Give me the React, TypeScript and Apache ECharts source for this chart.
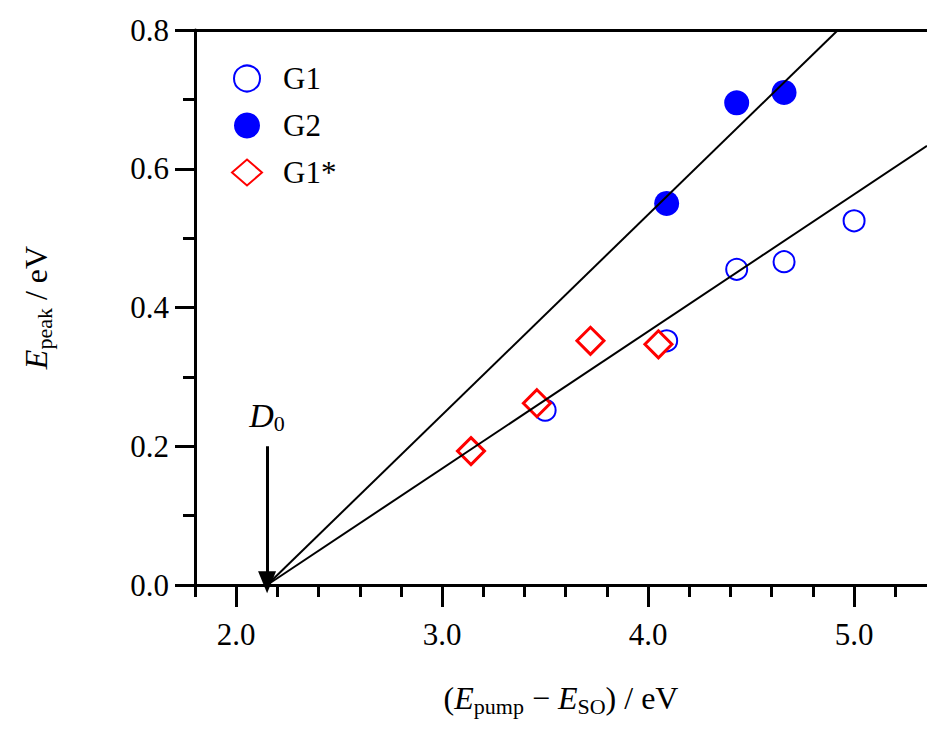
import React, { useEffect, useRef } from 'react';
import * as echarts from 'echarts';

const g1 = [[3.5, 0.252], [4.09, 0.352], [4.43, 0.455], [4.66, 0.466], [5.0, 0.525]];
const g2 = [[4.09, 0.55], [4.43, 0.695], [4.66, 0.71]];
const g1Star = [[3.14, 0.193], [3.46, 0.262], [3.72, 0.352], [4.05, 0.347]];
const fitG2 = [[2.15, 0], [4.922, 0.8]];
const fitG1 = [[2.15, 0], [5.354, 0.633]];
const d0 = 2.15;
const xMajor = [2, 3, 4, 5];
const xMinor = [1.8, 2.2, 2.4, 2.6, 2.8, 3.2, 3.4, 3.6, 3.8, 4.2, 4.4, 4.6, 4.8, 5.2];
const yMajor = [0, 0.2, 0.4, 0.6, 0.8];
const yMinor = [0.1, 0.3, 0.5, 0.7];

const FONT = '"Times New Roman", "Liberation Serif", "DejaVu Serif", serif';
const BLUE = '#0000ff';
const RED = '#ff0000';

const App = () => {
  const chartRef = useRef(null);

  useEffect(() => {
    const chart = echarts.init(chartRef.current, null, { renderer: 'svg' });
    const rich = {
      i: { fontFamily: FONT, fontSize: 32, fontStyle: 'italic', color: '#000' },
      s: { fontFamily: FONT, fontSize: 22, color: '#000', verticalAlign: 'bottom', padding: [16, 0, 0, 0] },
      n: { fontFamily: FONT, fontSize: 32, color: '#000' },
      t: { fontFamily: FONT, fontSize: 31, color: '#000' },
    };
    const baseX = {
      type: 'value', min: 1.8, max: 5.354, splitLine: { show: false },
    };
    const baseY = {
      type: 'value', min: 0, max: 0.8, splitLine: { show: false },
    };
    chart.setOption({
      animation: false,
      textStyle: { fontFamily: FONT },
      grid: { left: 195, right: 0, top: 30, bottom: 154 },
      legend: {
        orient: 'vertical', left: 226, top: 58, itemGap: 16, itemWidth: 30, itemHeight: 26,
        formatter: (n) => `{t|${n}}`,
        textStyle: { fontFamily: FONT, fontSize: 31, color: '#000', padding: [0, 0, 0, 16], rich },
        data: ['G1', 'G2', 'G1*'],
      },
      xAxis: [
        {
          ...baseX,
          axisLine: { lineStyle: { color: '#000', width: 3 } },
          axisTick: { customValues: xMinor, length: 12, lineStyle: { width: 3, color: '#000' } },
          axisLabel: { show: false },
        },
        {
          ...baseX, position: 'bottom',
          axisLine: { show: false },
          axisTick: { customValues: xMajor, length: 22, lineStyle: { width: 3, color: '#000' } },
          axisLabel: {
            customValues: xMajor, margin: 34, formatter: (v) => `{t|${v.toFixed(1)}}`, rich,
          },
          name: '{n|(}{i|E}{s|pump}{n| − }{i|E}{s|SO}{n|) / eV}',
          nameLocation: 'middle', nameGap: 94,
          nameTextStyle: { rich },
        },
        {
          ...baseX, position: 'top',
          axisLine: { lineStyle: { color: '#000', width: 3 } },
          axisTick: { show: false }, axisLabel: { show: false },
        },
      ],
      yAxis: [
        {
          ...baseY,
          axisLine: { lineStyle: { color: '#000', width: 3 } },
          axisTick: { customValues: yMinor, length: 12, lineStyle: { width: 3, color: '#000' } },
          axisLabel: { show: false },
        },
        {
          ...baseY, position: 'left',
          axisLine: { show: false },
          axisTick: { customValues: yMajor, length: 20, lineStyle: { width: 3, color: '#000' } },
          axisLabel: {
            customValues: yMajor, margin: 26, formatter: (v) => `{t|${v.toFixed(1)}}`, rich,
          },
          name: '{i|E}{s|peak}{n| / eV}',
          nameLocation: 'middle', nameGap: 140, nameRotate: 90,
          nameTextStyle: { rich },
        },
      ],
      series: [
        {
          type: 'line', data: fitG2, symbol: 'none', silent: true,
          lineStyle: { color: '#000', width: 2 },
          markLine: {
            silent: true, symbol: ['none', 'triangle'], symbolSize: [18, 22],
            lineStyle: { color: '#000', width: 3, type: 'solid' }, label: { show: false },
            data: [[{ coord: [d0, 0.2] }, { coord: [d0, 0.004] }]],
          },
          markPoint: {
            symbol: 'circle', symbolSize: 0,
            data: [{ coord: [d0, 0.245] }],
            label: {
              show: true, formatter: '{i|D}{s|0}',
              rich: { i: { ...rich.i, fontSize: 34 }, s: rich.s },
            },
          },
        },
        { type: 'line', data: fitG1, symbol: 'none', silent: true, lineStyle: { color: '#000', width: 2 } },
        {
          name: 'G1', type: 'scatter', data: g1, symbol: 'emptyCircle', symbolSize: 21,
          itemStyle: { color: BLUE, borderColor: BLUE, borderWidth: 3.5, opacity: 1 },
        },
        {
          name: 'G2', type: 'scatter', data: g2, symbol: 'circle', symbolSize: 25,
          itemStyle: { color: BLUE, opacity: 1 },
        },
        {
          name: 'G1*', type: 'scatter', data: g1Star, symbol: 'diamond', symbolSize: [27, 27],
          itemStyle: { color: '#fff', borderColor: RED, borderWidth: 3, opacity: 1 },
        },
      ],
    });
    return () => chart.dispose();
  }, []);

  return <div ref={chartRef} style={{ position: 'absolute', left: 0, top: 0, width: 927, height: 739 }} />;
};

export default App;
